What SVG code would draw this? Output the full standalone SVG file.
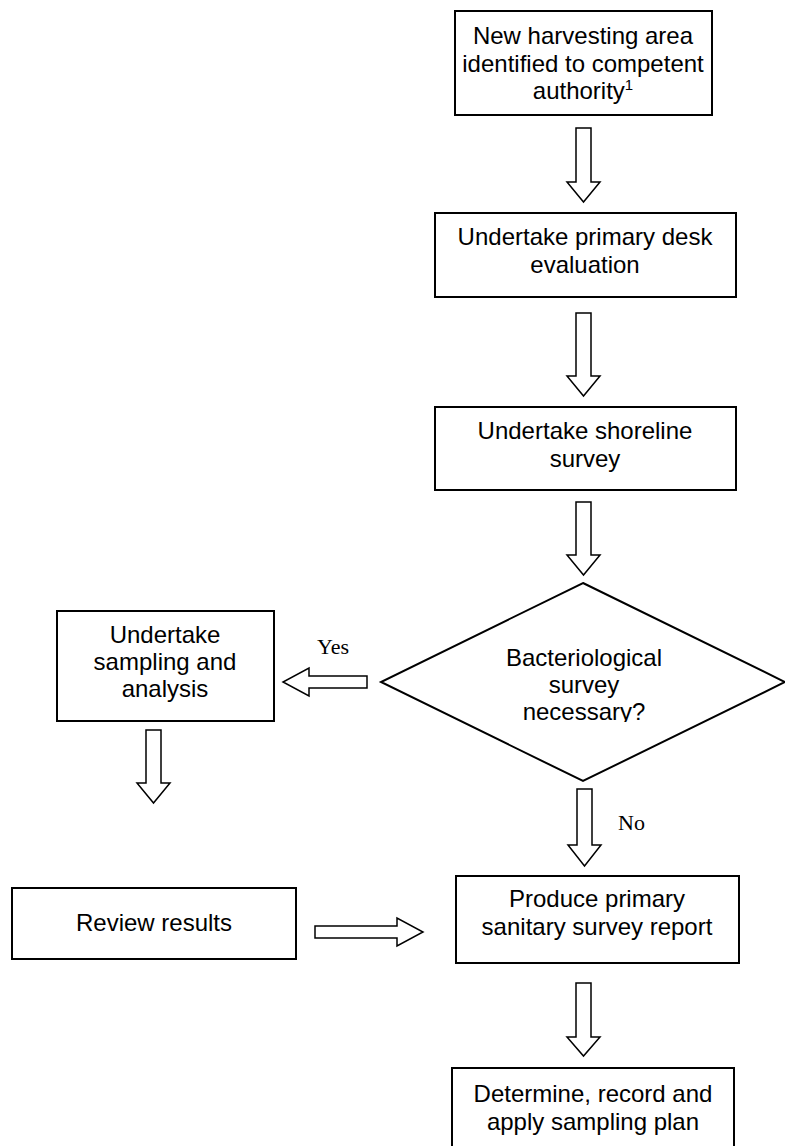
<svg xmlns="http://www.w3.org/2000/svg" width="785" height="1146" viewBox="0 0 785 1146">
<style>
.box{fill:#fff;stroke:#000;stroke-width:2}
.arr{fill:#fff;stroke:#000;stroke-width:1.5;stroke-linejoin:miter}
.t{font-family:"Liberation Sans",Arial,sans-serif;font-size:24px;fill:#000;text-anchor:middle}
.lbl{font-family:"Liberation Serif","Times New Roman",serif;font-size:22px;fill:#000}
</style>
<defs>
<clipPath id="dclip"><rect x="430" y="630" width="310" height="92"/></clipPath>
</defs>
<rect width="785" height="1146" fill="#fff"/>
<g id="n1">
<rect class="box" x="455" y="11" width="257" height="104"/>
<text class="t" x="583" y="44">New harvesting area</text>
<text class="t" x="583" y="72">identified to competent</text>
<text class="t" x="583" y="99">authority<tspan font-size="15" dy="-9">1</tspan></text>
</g>
<g id="n2">
<rect class="box" x="435" y="213" width="301" height="84"/>
<text class="t" x="585" y="245">Undertake primary desk</text>
<text class="t" x="585" y="273">evaluation</text>
</g>
<g id="n3">
<rect class="box" x="435" y="407" width="301" height="83"/>
<text class="t" x="585" y="439">Undertake shoreline</text>
<text class="t" x="585" y="467">survey</text>
</g>
<g id="n4">
<polygon class="box" points="583,583 785,682 583,781 381,682"/>
<g clip-path="url(#dclip)">
<text class="t" x="584" y="666">Bacteriological</text>
<text class="t" x="584" y="693">survey</text>
<text class="t" x="584" y="720">necessary?</text>
</g>
</g>
<g id="n5">
<rect class="box" x="57" y="611" width="217" height="110"/>
<text class="t" x="165" y="643">Undertake</text>
<text class="t" x="165" y="670">sampling and</text>
<text class="t" x="165" y="697">analysis</text>
</g>
<g id="n6">
<rect class="box" x="12" y="888" width="284" height="71"/>
<text class="t" x="154" y="931">Review results</text>
</g>
<g id="n7">
<rect class="box" x="456" y="876" width="283" height="87"/>
<text class="t" x="597" y="907">Produce primary</text>
<text class="t" x="597" y="935">sanitary survey report</text>
</g>
<g id="n8">
<rect class="box" x="452" y="1068" width="282" height="90"/>
<text class="t" x="593" y="1102">Determine, record and</text>
<text class="t" x="593" y="1130">apply sampling plan</text>
</g>
<g id="connectors">
<polygon class="arr" points="576,128 591,128 591,182 600,182 583.5,202 567,182 576,182"/>
<polygon class="arr" points="576,313 591,313 591,376 600,376 583.5,396 567,376 576,376"/>
<polygon class="arr" points="576,502 591,502 591,555 600,555 583.5,575 567,555 576,555"/>
<polygon class="arr" points="367,676 309,676 309,668 283,682 309,696 309,688 367,688"/>
<polygon class="arr" points="146,730 161,730 161,783 170,783 153.5,803 137,783 146,783"/>
<polygon class="arr" points="577,789 592,789 592,845 601,845 584.5,866 568,845 577,845"/>
<polygon class="arr" points="315,926 397,926 397,918 423,932 397,946 397,938 315,938"/>
<polygon class="arr" points="576,983 591,983 591,1037 600,1037 583.5,1056 567,1037 576,1037"/>
<text class="lbl" x="317" y="654">Yes</text>
<text class="lbl" x="618" y="830">No</text>
</g>
</svg>
